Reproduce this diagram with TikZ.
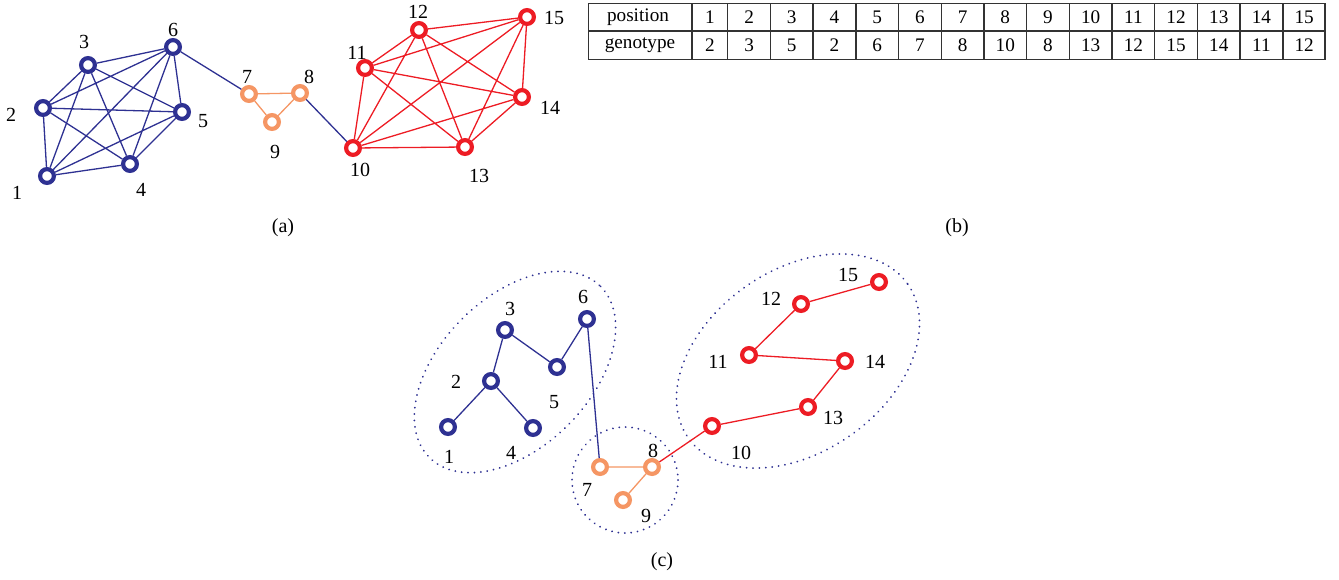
\documentclass[tikz,border=0pt]{standalone}
\usepackage{amsmath,amssymb}
\usepackage{fontspec}
\setmainfont{Liberation Serif}
\usepackage{tikz}
\usetikzlibrary{calc,positioning}
\definecolor{gblue}{RGB}{46,49,146}
\definecolor{gred}{RGB}{237,28,36}
\definecolor{gorange}{RGB}{245,150,100}

\begin{document}
\begin{tikzpicture}[x=0.5pt,y=-0.5pt,
    vtx/.style={circle,draw,fill=white,line width=2.1pt,minimum size=6.9pt,inner sep=0pt},
    bv/.style={vtx,draw=gblue},
    rv/.style={vtx,draw=gred},
    ov/.style={vtx,draw=gorange},
    bedge/.style={draw=gblue,line width=0.65pt},
    redge/.style={draw=gred,line width=0.65pt},
    oedge/.style={draw=gorange,line width=0.65pt},
    grp/.style={draw=gblue,line width=1pt,line cap=round,dash pattern=on 0.01pt off 3.2pt},
    lbl/.style={font=\fontsize{10}{12}\selectfont,inner sep=1pt},
    cell/.style={font=\fontsize{9.6}{11}\selectfont,inner sep=0pt}]
    \useasboundingbox (0,0) rectangle (1339,579);

    % (a) вершини
    \node[bv] (a1) at (47,176) {};
    \node[bv] (a2) at (43,108) {};
    \node[bv] (a3) at (88,65) {};
    \node[bv] (a4) at (130,164) {};
    \node[bv] (a5) at (182,112) {};
    \node[bv] (a6) at (173,47) {};
    \node[ov] (a7) at (249,94) {};
    \node[ov] (a8) at (300,93) {};
    \node[ov] (a9) at (272,122) {};
    \node[rv] (a10) at (353,148) {};
    \node[rv] (a11) at (365,68) {};
    \node[rv] (a12) at (419,30) {};
    \node[rv] (a13) at (465,147) {};
    \node[rv] (a14) at (522,97) {};
    \node[rv] (a15) at (527,17) {};

    % (a) ребра
    \path[bedge] (a1) -- (a2) (a1) -- (a3) (a1) -- (a4) (a1) -- (a5) (a1) -- (a6)
        (a2) -- (a3) (a2) -- (a4) (a2) -- (a5) (a2) -- (a6)
        (a3) -- (a4) (a3) -- (a5) (a3) -- (a6)
        (a4) -- (a5) (a4) -- (a6) (a5) -- (a6);
    \path[bedge] (a6) -- (a7) (a8) -- (a10);
    \path[oedge] (a7) -- (a8) (a7) -- (a9) (a8) -- (a9);
    \path[redge] (a10) -- (a11) (a10) -- (a12) (a10) -- (a13) (a10) -- (a14) (a10) -- (a15)
        (a11) -- (a12) (a11) -- (a13) (a11) -- (a14) (a11) -- (a15)
        (a12) -- (a13) (a12) -- (a14) (a12) -- (a15)
        (a13) -- (a14) (a13) -- (a15) (a14) -- (a15);

    % (a) підписи
    \node[lbl] (la1) at (17,193) {1};
    \node[lbl] (la2) at (11,115) {2};
    \node[lbl] (la3) at (84,42) {3};
    \node[lbl] (la4) at (141,190) {4};
    \node[lbl] (la5) at (203,121) {5};
    \node[lbl] (la6) at (173,30) {6};
    \node[lbl] (la7) at (247,77) {7};
    \node[lbl] (la8) at (309,77) {8};
    \node[lbl] (la9) at (275,152) {9};
    \node[lbl] (la10) at (360,170) {10};
    \node[lbl] (la11) at (357,53) {11};
    \node[lbl] (la12) at (418,12) {12};
    \node[lbl] (la13) at (479,176) {13};
    \node[lbl] (la14) at (550,108) {14};
    \node[lbl] (la15) at (554,18) {15};

    % (b) таблиця
    \draw[line width=0.7pt,black!80] (588.5,3.3) rectangle (1325,59.3);
    \draw[line width=0.7pt,black!80] (588.5,31) -- (1325,31);
    \draw[line width=0.7pt,black!80] (692,3.3) -- (692,59.3);
    \foreach \k in {0,...,13}
        \draw[line width=0.7pt,black!80] (727.7+42.7*\k,3.3) -- (727.7+42.7*\k,59.3);
    \node[cell] (posh) at (638,17.2) {position};
    \node[cell] (genh) at (640,45.2) {genotype};
    \foreach \p/\g [count=\i] in {1/2,2/3,3/5,4/2,5/6,6/7,7/8,8/10,9/8,10/13,11/12,12/15,13/14,14/11,15/12} {
        \pgfmathsetmacro\xc{ifthenelse(\i==1,709.9,706.35+42.7*(\i-1))}
        \node[cell] (pos\i) at (\xc,17.2) {\p};
        \node[cell] (gen\i) at (\xc,45.2) {\g};
    }

    % (c) групи
    \draw[grp,rotate around={45:(515,372)}] (515,372) ellipse [x radius=121,y radius=75];
    \draw[grp] (625,480) circle [radius=53];
    \draw[grp,rotate around={35:(798,361)}] (798,361) ellipse [x radius=134,y radius=91];

    % (c) вершини
    \node[bv] (c1) at (448,427) {};
    \node[bv] (c2) at (491,381) {};
    \node[bv] (c3) at (505,330) {};
    \node[bv] (c4) at (533,428) {};
    \node[bv] (c5) at (557,367) {};
    \node[bv] (c6) at (587,319) {};
    \node[ov] (c7) at (600,467) {};
    \node[ov] (c8) at (652,467) {};
    \node[ov] (c9) at (623,500) {};
    \node[rv] (c10) at (712,426) {};
    \node[rv] (c11) at (749,355) {};
    \node[rv] (c12) at (801,304) {};
    \node[rv] (c13) at (808,407) {};
    \node[rv] (c14) at (845,361) {};
    \node[rv] (c15) at (879,282) {};

    % (c) ребра
    \path[bedge] (c1) -- (c2) (c2) -- (c3) (c2) -- (c4) (c3) -- (c5) (c5) -- (c6) (c6) -- (c7);
    \path[oedge] (c7) -- (c8) (c8) -- (c9);
    \path[redge] (c8) -- (c10) (c10) -- (c13) (c13) -- (c14) (c14) -- (c11) (c11) -- (c12) (c12) -- (c15);

    % (c) підписи
    \node[lbl] (lc1) at (449,457) {1};
    \node[lbl] (lc2) at (456,382) {2};
    \node[lbl] (lc3) at (510,309) {3};
    \node[lbl] (lc4) at (511,453) {4};
    \node[lbl] (lc5) at (554,402) {5};
    \node[lbl] (lc6) at (583,297) {6};
    \node[lbl] (lc7) at (587,490) {7};
    \node[lbl] (lc8) at (653,451) {8};
    \node[lbl] (lc9) at (646,516) {9};
    \node[lbl] (lc10) at (741,453) {10};
    \node[lbl] (lc11) at (718,362) {11};
    \node[lbl] (lc12) at (771,299) {12};
    \node[lbl] (lc13) at (833,418) {13};
    \node[lbl] (lc14) at (875,362) {14};
    \node[lbl] (lc15) at (848,275) {15};

    % Підписи частин
    \node[lbl] (capa) at (283,228) {(a)};
    \node[lbl] (capb) at (957,228) {(b)};
    \node[lbl] (capc) at (662,562) {(c)};
\end{tikzpicture}
\end{document}
